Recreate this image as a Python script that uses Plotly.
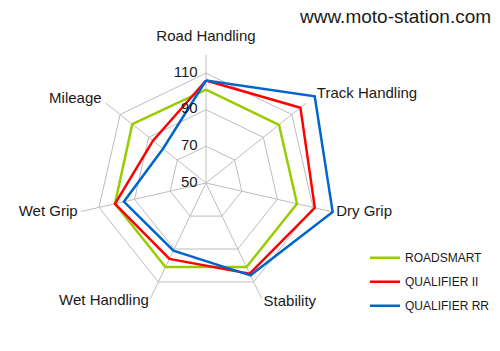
import plotly.graph_objects as go

categories = ["Road Handling", "Track Handling", "Dry Grip", "Stability",
              "Wet Handling", "Wet Grip", "Mileage"]
roadsmart = [101, 101, 101, 101, 101, 101, 101.5]
qualifier_ii = [106, 116, 111, 105, 96, 101, 87]
qualifier_rr = [106, 126, 121, 106, 91, 96, 80]
radial_ticks = [50, 70, 90, 110]

R_MIN, R_MAX = 49.9, 128
SPOKE_END = 120
FONT = "Liberation Sans, Arial, sans-serif"
GRID = "#BDBDBD"
TXT = "#1a1a1a"

fig = go.Figure()

# spokes
sp_r, sp_t = [], []
for c in categories:
    sp_r += [radial_ticks[0], SPOKE_END, None]
    sp_t += [c, c, None]
fig.add_trace(go.Scatterpolar(r=sp_r, theta=sp_t, mode="lines",
                              line=dict(color=GRID, width=1),
                              showlegend=False, hoverinfo="skip",
                              connectgaps=False))

series = [("ROADSMART", roadsmart, "#99CC00"),
          ("QUALIFIER II", qualifier_ii, "#FF0000"),
          ("QUALIFIER RR", qualifier_rr, "#0066CC")]
for name, vals, col in series:
    fig.add_trace(go.Scatterpolar(r=vals + vals[:1], theta=categories + categories[:1],
                                  mode="lines", name=name, legendgroup=name,
                                  line=dict(color=col, width=2.5)))

# radial tick labels (horizontal, left of the top spoke)
fig.add_trace(go.Scatterpolar(r=radial_ticks, theta=[categories[0]] * len(radial_ticks),
                              mode="text",
                              text=[f"{v}\u00a0\u00a0" for v in radial_ticks],
                              textposition="middle left",
                              textfont=dict(family=FONT, size=15, color=TXT),
                              showlegend=False, hoverinfo="skip", cliponaxis=False))

# category labels
label_r = [125.5, 127.5, 123, 122.5, 122, 122, 123]
label_pos = ["top center", "middle right", "middle right", "middle right",
             "middle left", "middle left", "middle left"]
fig.add_trace(go.Scatterpolar(r=label_r, theta=categories, mode="text",
                              text=categories, textposition=label_pos,
                              textfont=dict(family=FONT, size=15, color=TXT),
                              showlegend=False, hoverinfo="skip", cliponaxis=False))

fig.update_layout(
    width=500, height=351,
    margin=dict(l=0, r=0, t=0, b=0),
    paper_bgcolor="white", plot_bgcolor="white",
    font=dict(family=FONT, color=TXT),
    polar=dict(
        domain=dict(x=[0.1266, 0.6974], y=[0.0721, 0.8852]),
        bgcolor="white",
        gridshape="linear",
        radialaxis=dict(range=[R_MIN, R_MAX], tickvals=radial_ticks,
                        showline=False, ticks="", showticklabels=False,
                        angle=90, gridcolor=GRID, gridwidth=1),
        angularaxis=dict(direction="clockwise", rotation=90,
                         showline=False, showgrid=False, ticks="",
                         showticklabels=False),
    ),
    legend=dict(x=0.73, y=0.307, xanchor="left", yanchor="top",
                font=dict(family=FONT, size=12, color=TXT),
                traceorder="grouped", tracegroupgap=5,
                bgcolor="rgba(0,0,0,0)"),
    annotations=[dict(text="www.moto-station.com", x=395 / 500, y=1 - 17 / 351,
                      xref="paper", yref="paper", xanchor="center", yanchor="middle",
                      showarrow=False,
                      font=dict(family=FONT, size=19, color=TXT))],
)

fig.write_html("out.html")
